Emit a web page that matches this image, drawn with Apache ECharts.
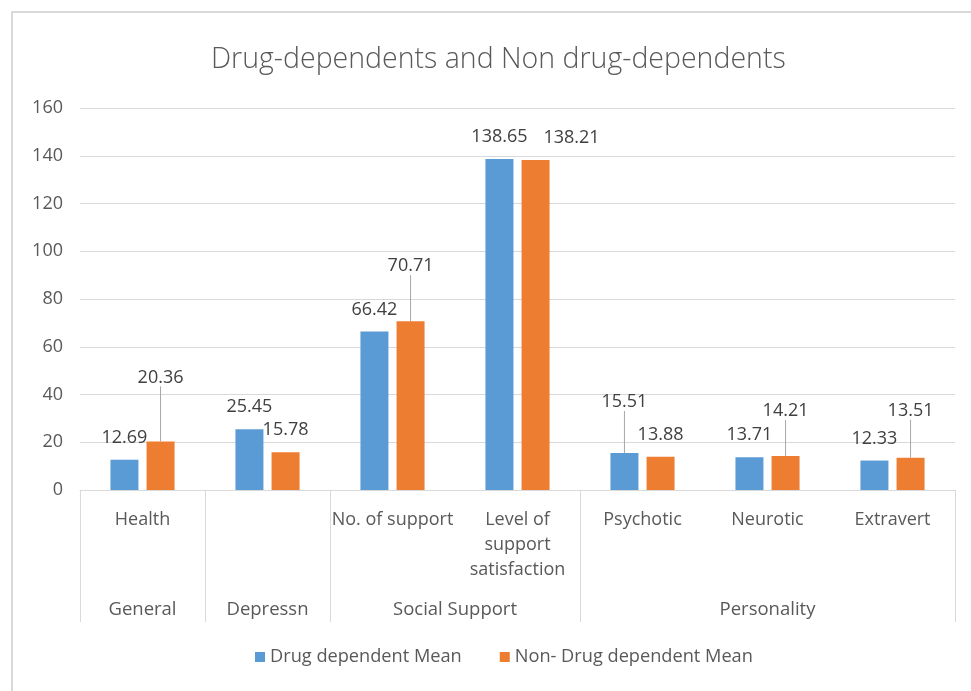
<!DOCTYPE html>
<html>
<head>
<meta charset="utf-8">
<script src="https://cdn.jsdelivr.net/npm/echarts@6/dist/echarts.min.js"></script>
<style>
  html, body { margin: 0; padding: 0; background: #ffffff; }
  #chart { width: 971px; height: 691px; }
</style>
</head>
<body>
<div id="chart"></div>
<script>
// Categories on the first axis row (Depressn has no sub-category)
const categories = ['Health', '', 'No. of support', 'Level of\nsupport\nsatisfaction', 'Psychotic', 'Neurotic', 'Extravert'];
// Group headings on the second axis row and how many categories each spans
const groups = ['General', 'Depressn', 'Social Support', 'Personality'];
const groupSpans = [1, 1, 2, 3];
// Mean scores per category
const drugDependentMean = [12.69, 25.45, 66.42, 138.65, 15.51, 13.71, 12.33];
const nonDrugDependentMean = [20.36, 15.78, 70.71, 138.21, 13.88, 14.21, 13.51];
// Value axis ticks
const yTicks = [0, 20, 40, 60, 80, 100, 120, 140, 160];

// Group boundaries and centres, in category units
const groupBounds = [0];
groupSpans.forEach(s => groupBounds.push(groupBounds[groupBounds.length - 1] + s));
const groupCenters = groups.map((g, i) => (groupBounds[i] + groupBounds[i + 1]) / 2);

const FONT = '"Open Sans", "Liberation Sans", sans-serif';
const TEXT = '#595959';
const GRID = '#d9d9d9';

// Labels raised above their bars with a leader line (series index -> data index -> lift px)
const raised = { 0: { 4: 29 }, 1: { 0: 42, 2: 33, 5: 23, 6: 25 } };
// Labels nudged sideways without a leader line
const shifted = { 1: { 3: 36 } };

function toItems(values, seriesIdx) {
  return values.map((v, i) => ({
    value: v,
    labelLine: { show: !!(raised[seriesIdx] && raised[seriesIdx][i]) }
  }));
}

function layoutFor(seriesIdx) {
  return function (params) {
    const lift = (raised[seriesIdx] && raised[seriesIdx][params.dataIndex]) || 0;
    const dx = (shifted[seriesIdx] && shifted[seriesIdx][params.dataIndex]) || 0;
    return { dx: dx, dy: -lift };
  };
}

const labelStyle = {
  show: true,
  position: 'top',
  distance: 13,
  color: '#404040',
  fontFamily: FONT,
  fontSize: 18,
  formatter: p => p.value.toFixed(2)
};
const lineStyle = { lineStyle: { color: '#a6a6a6', width: 1 }, length: 0, length2: 0 };

const chart = echarts.init(document.getElementById('chart'), null, { renderer: 'canvas' });
chart.setOption({
  backgroundColor: '#ffffff',
  animation: false,
  color: ['#5B9BD5', '#ED7D31'],
  graphic: [{
    type: 'rect',
    shape: { x: 12, y: 12, width: 1000, height: 720 },
    style: { fill: 'none', stroke: '#d9d9d9', lineWidth: 2 },
    silent: true
  }],
  title: {
    text: 'Drug-dependents and Non drug-dependents',
    left: 206,
    top: 40,
    textStyle: { fontFamily: FONT, fontWeight: 300, fontSize: 28.5, color: TEXT }
  },
  legend: {
    left: 250,
    top: 643,
    icon: 'rect',
    itemWidth: 10,
    itemHeight: 10,
    itemGap: 38,
    textStyle: { fontFamily: FONT, fontSize: 18.2, color: TEXT }
  },
  grid: { left: 80, right: 16, top: 108, bottom: 201, containLabel: false },
  xAxis: [{
    type: 'category',
    data: categories,
    axisLine: { show: true, lineStyle: { color: GRID, width: 1 } },
    axisTick: { show: false },
    axisLabel: {
      interval: 0,
      margin: 17,
      fontFamily: FONT,
      fontSize: 18,
      lineHeight: 25,
      color: TEXT
    }
  }, {
    type: 'value',
    position: 'bottom',
    min: 0,
    max: categories.length,
    axisLine: { show: false },
    splitLine: { show: false },
    axisTick: {
      show: true,
      customValues: groupBounds,
      length: 132,
      lineStyle: { color: GRID, width: 1 }
    },
    axisLabel: {
      customValues: groupCenters,
      margin: 110,
      fontFamily: FONT,
      fontSize: 18.5,
      color: TEXT,
      formatter: v => {
        const i = groupCenters.findIndex(c => Math.abs(c - v) < 1e-6);
        return i >= 0 ? groups[i] : '';
      }
    }
  }],
  yAxis: {
    type: 'value',
    min: yTicks[0],
    max: yTicks[yTicks.length - 1],
    interval: yTicks[1] - yTicks[0],
    axisLine: { show: false },
    axisTick: { show: false },
    splitLine: { lineStyle: { color: GRID, width: 1 } },
    axisLabel: { margin: 17, fontFamily: FONT, fontSize: 18, color: TEXT }
  },
  series: [{
    name: 'Drug dependent Mean',
    type: 'bar',
    xAxisIndex: 0,
    barWidth: 28,
    barGap: '29%',
    data: toItems(drugDependentMean, 0),
    label: labelStyle,
    labelLine: lineStyle,
    labelLayout: layoutFor(0)
  }, {
    name: 'Non- Drug dependent Mean',
    type: 'bar',
    xAxisIndex: 0,
    barWidth: 28,
    barGap: '29%',
    data: toItems(nonDrugDependentMean, 1),
    label: labelStyle,
    labelLine: lineStyle,
    labelLayout: layoutFor(1)
  }]
});
</script>
</body>
</html>
